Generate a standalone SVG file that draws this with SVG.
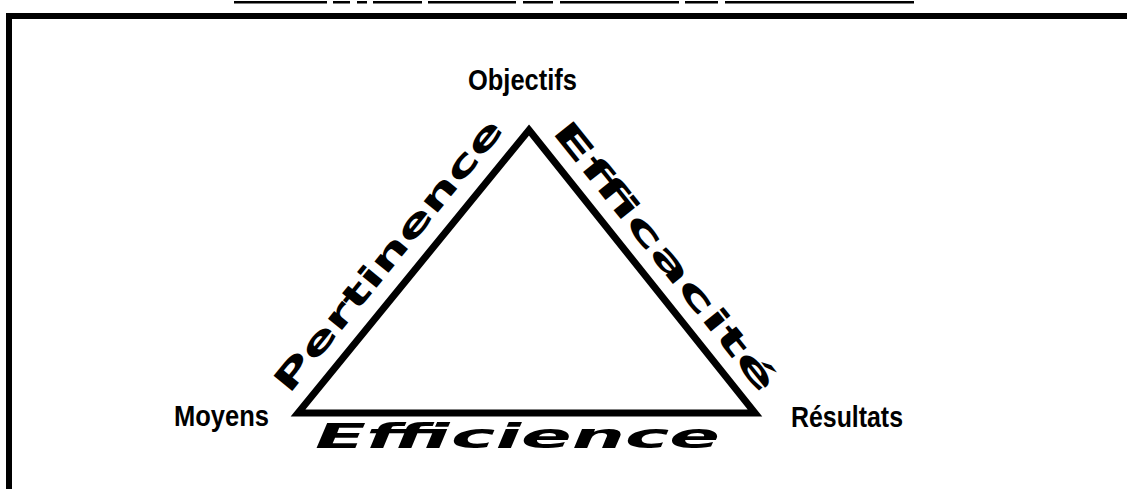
<svg xmlns="http://www.w3.org/2000/svg" width="1127" height="489" viewBox="0 0 1127 489">
<style>
.lbl{font-family:"Liberation Sans",Arial,sans-serif;font-weight:bold;font-size:29px;fill:#000}
.hand{font-family:"DejaVu Sans","Liberation Sans",sans-serif;font-weight:bold;font-size:33px;fill:#000}
.bar{fill:#000}
</style>
<rect width="1127" height="489" fill="#fff"/>
<g id="header-underlines">
<rect class="bar" x="234" y="1" width="93" height="2.5"/>
<rect class="bar" x="333" y="1" width="17" height="2.5"/>
<rect class="bar" x="357" y="1" width="10" height="2.5"/>
<rect class="bar" x="373" y="1" width="49" height="2.5"/>
<rect class="bar" x="428" y="1" width="88" height="2.5"/>
<rect class="bar" x="523" y="1" width="30" height="2.5"/>
<rect class="bar" x="560" y="1" width="119" height="2.5"/>
<rect class="bar" x="685" y="1" width="33" height="2.5"/>
<rect class="bar" x="725" y="1" width="189" height="2.5"/>
</g>
<g id="frame">
<path d="M9 489 V16 H1127" fill="none" stroke="#000" stroke-width="6"/>
</g>
<g id="connectors">
<polygon points="529,130 755,413 298,413" fill="none" stroke="#000" stroke-width="7" stroke-linejoin="miter"/>
</g>
<g id="node-objectifs"><text class="lbl" x="468" y="90" textLength="109" lengthAdjust="spacingAndGlyphs">Objectifs</text></g>
<g id="node-moyens"><text class="lbl" x="174" y="426" textLength="95" lengthAdjust="spacingAndGlyphs">Moyens</text></g>
<g id="node-resultats"><text class="lbl" x="791" y="427" textLength="112" lengthAdjust="spacingAndGlyphs">Résultats</text></g>
<g id="label-pertinence"><text class="hand" transform="translate(289,395) rotate(-50.8)" textLength="342" lengthAdjust="spacingAndGlyphs">Pertinence</text></g>
<g id="label-efficacite"><text class="hand" transform="translate(551,131.5) rotate(51.4)" textLength="337" lengthAdjust="spacingAndGlyphs">Efficacité</text></g>
<g id="label-efficience"><text class="hand" x="315" y="448" font-style="italic" textLength="405" lengthAdjust="spacingAndGlyphs">Efficience</text></g>
</svg>
